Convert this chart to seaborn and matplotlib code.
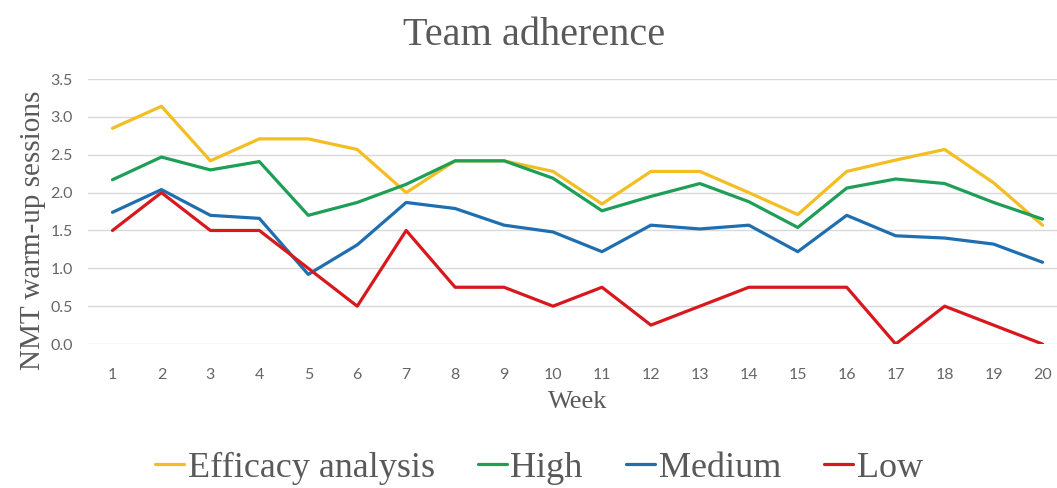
import pandas as pd
import matplotlib
matplotlib.use("Agg")
import matplotlib.pyplot as plt
import seaborn as sns

# Data
weeks = list(range(1, 21))
efficacy = [2.85, 3.14, 2.42, 2.71, 2.71, 2.57, 2.00, 2.42, 2.42, 2.28,
            1.85, 2.28, 2.28, 2.00, 1.71, 2.28, 2.43, 2.57, 2.13, 1.57]
high = [2.17, 2.47, 2.30, 2.41, 1.70, 1.87, 2.11, 2.42, 2.42, 2.19,
        1.76, 1.95, 2.12, 1.88, 1.54, 2.06, 2.18, 2.12, 1.87, 1.65]
medium = [1.74, 2.04, 1.70, 1.66, 0.92, 1.31, 1.87, 1.79, 1.57, 1.48,
          1.22, 1.57, 1.52, 1.57, 1.22, 1.70, 1.43, 1.40, 1.32, 1.08]
low = [1.5, 2.0, 1.5, 1.5, 1.0, 0.5, 1.5, 0.75, 0.75, 0.5,
       0.75, 0.25, 0.5, 0.75, 0.75, 0.75, 0.0, 0.5, 0.25, 0.0]
series_names = ["Efficacy analysis", "High", "Medium", "Low"]
colors = ["#F2BE22", "#1E9E57", "#1F6EB0", "#D7191E"]

df = pd.DataFrame({"Week": weeks, "Efficacy analysis": efficacy, "High": high,
                   "Medium": medium, "Low": low})
long_df = df.melt(id_vars="Week", var_name="Group", value_name="Sessions")

sns.set_style("white")
serif = "Liberation Serif"
text_gray = "#595959"

fig = plt.figure(figsize=(10.57, 4.88), dpi=100)
ax = fig.add_axes([88 / 1057, 0.295, (1067 - 88) / 1057, 0.838 - 0.295])

sns.lineplot(data=long_df, x="Week", y="Sessions", hue="Group", hue_order=series_names,
             palette=colors, linewidth=2.3, ax=ax, legend=True)

ax.set_xlim(0.5, 20.5)
ax.set_ylim(0, 3.5)
ax.set_xticks(weeks)
ax.set_yticks([0, 0.5, 1.0, 1.5, 2.0, 2.5, 3.0, 3.5])
ax.set_yticklabels([f"{v:.1f}" for v in ax.get_yticks()])
ax.yaxis.grid(True, color="#D9D9D9", linewidth=1)
ax.set_axisbelow(True)
for s in ax.spines.values():
    s.set_visible(False)
ax.tick_params(axis="both", length=0, labelsize=11.5, labelcolor="#666666")
ax.tick_params(axis="x", pad=17)
ax.tick_params(axis="y", pad=11)
for lab in ax.get_xticklabels() + ax.get_yticklabels():
    lab.set_family("Lato")

ax.set_xlabel("Week", family=serif, fontsize=19, color=text_gray, labelpad=7)
ax.set_ylabel("NMT warm-up sessions", family=serif, fontsize=21, color=text_gray)
ax.yaxis.set_label_coords(-42 / 979, 0.43)
fig.text(0.505, 0.928, "Team adherence", ha="center", va="center", family=serif,
         fontsize=29, color=text_gray)

handles, labels = ax.get_legend_handles_labels()
ax.get_legend().remove()
leg = fig.legend(handles, labels, loc="center", bbox_to_anchor=(0.51, 0.04), ncol=4,
                 frameon=False, handlelength=0.8, handletextpad=0.1, columnspacing=1.2,
                 prop={"family": serif, "size": 26})
for t in leg.get_texts():
    t.set_color(text_gray)

fig.savefig("out.png", dpi=100)
